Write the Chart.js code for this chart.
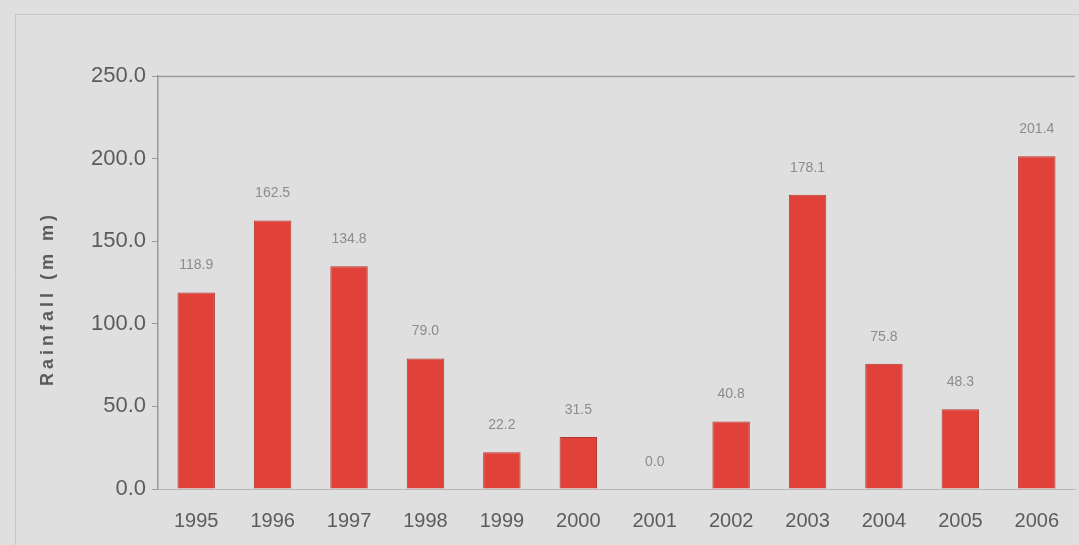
<!DOCTYPE html>
<html>
<head>
<meta charset="utf-8">
<script src="https://cdn.jsdelivr.net/npm/chart.js@4/dist/chart.umd.min.js"></script>
<style>
  html, body { margin: 0; padding: 0; background: #dfdfdf; }
  #wrap { width: 1079px; height: 545px; position: relative; }
</style>
</head>
<body>
<div id="wrap"><canvas id="rain"></canvas></div>
<script>
const years = ['1995', '1996', '1997', '1998', '1999', '2000', '2001', '2002', '2003', '2004', '2005', '2006'];
const rainfall = [118.9, 162.5, 134.8, 79.0, 22.2, 31.5, 0.0, 40.8, 178.1, 75.8, 48.3, 201.4];
const yTicks = [0, 50, 100, 150, 200, 250];

const TEXT = '#5c5c5c';

// value labels above each bar
const barLabels = {
  id: 'barLabels',
  afterDatasetsDraw(chart) {
    const { ctx } = chart;
    const meta = chart.getDatasetMeta(0);
    ctx.save();
    ctx.font = '14px "Liberation Sans", Arial, sans-serif';
    ctx.fillStyle = '#8c8c8c';
    ctx.textAlign = 'center';
    ctx.textBaseline = 'bottom';
    meta.data.forEach((bar, i) => {
      ctx.fillText(rainfall[i].toFixed(1), bar.x, bar.y - 20);
    });
    ctx.restore();
  }
};

// rotated, letter-spaced axis title
const yTitle = {
  id: 'yTitle',
  afterDraw(chart) {
    const { ctx, chartArea } = chart;
    ctx.save();
    ctx.translate(48, (chartArea.top + chartArea.bottom) / 2 + 16);
    ctx.rotate(-Math.PI / 2);
    ctx.font = 'bold 18px "Liberation Sans", Arial, sans-serif';
    ctx.letterSpacing = '4px';
    ctx.fillStyle = TEXT;
    ctx.textAlign = 'center';
    ctx.textBaseline = 'middle';
    ctx.fillText('Rainfall (m m)', 0, 0);
    ctx.restore();
  }
};

// thin frame lines along the top of the plot and the outer border
const frame = {
  id: 'frame',
  beforeDatasetsDraw(chart) {
    const { ctx, chartArea: a } = chart;
    ctx.save();
    ctx.strokeStyle = '#9a9a9a';
    ctx.lineWidth = 1.5;
    ctx.beginPath();
    ctx.moveTo(a.left, a.top + 0.5);
    ctx.lineTo(a.right, a.top + 0.5);
    ctx.stroke();
    ctx.strokeStyle = '#c8c8c8';
    ctx.lineWidth = 1;
    ctx.beginPath();
    ctx.moveTo(15, 14.5);
    ctx.lineTo(1079, 14.5);
    ctx.moveTo(15.5, 14);
    ctx.lineTo(15.5, 545);
    ctx.stroke();
    ctx.restore();
  }
};

new Chart(document.getElementById('rain'), {
  type: 'bar',
  data: {
    labels: years,
    datasets: [{
      data: rainfall,
      backgroundColor: '#e0423a',
      borderColor: '#b53a33',
      borderWidth: 1,
      barPercentage: 0.49,
      categoryPercentage: 1.0,
    }],
  },
  options: {
    responsive: true,
    maintainAspectRatio: false,
    animation: false,
    layout: { padding: { left: 0, top: 76, right: 4, bottom: 0 } },
    plugins: {
      legend: { display: false },
      tooltip: { enabled: false },
    },
    scales: {
      x: {
        grid: { display: false, drawTicks: true },
        border: { color: '#b8b8b8', width: 1 },
        ticks: {
          color: TEXT,
          font: { size: 20, family: '"Liberation Sans", Arial, sans-serif' },
          padding: 12,
          maxRotation: 0,
        },
      },
      y: {
        min: 0,
        max: 250,
        afterBuildTicks: s => { s.ticks = yTicks.map(v => ({ value: v })); },
        afterFit: s => { s.width = 158; },
        grid: { display: true, drawOnChartArea: false, tickLength: 6, color: '#9a9a9a' },
        border: { color: '#9a9a9a', width: 1.5 },
        ticks: {
          color: TEXT,
          font: { size: 22, family: '"Liberation Sans", Arial, sans-serif' },
          padding: 6,
          callback: v => Number(v).toFixed(1),
        },
      },
    },
  },
  plugins: [frame, barLabels, yTitle],
});
</script>
</body>
</html>
